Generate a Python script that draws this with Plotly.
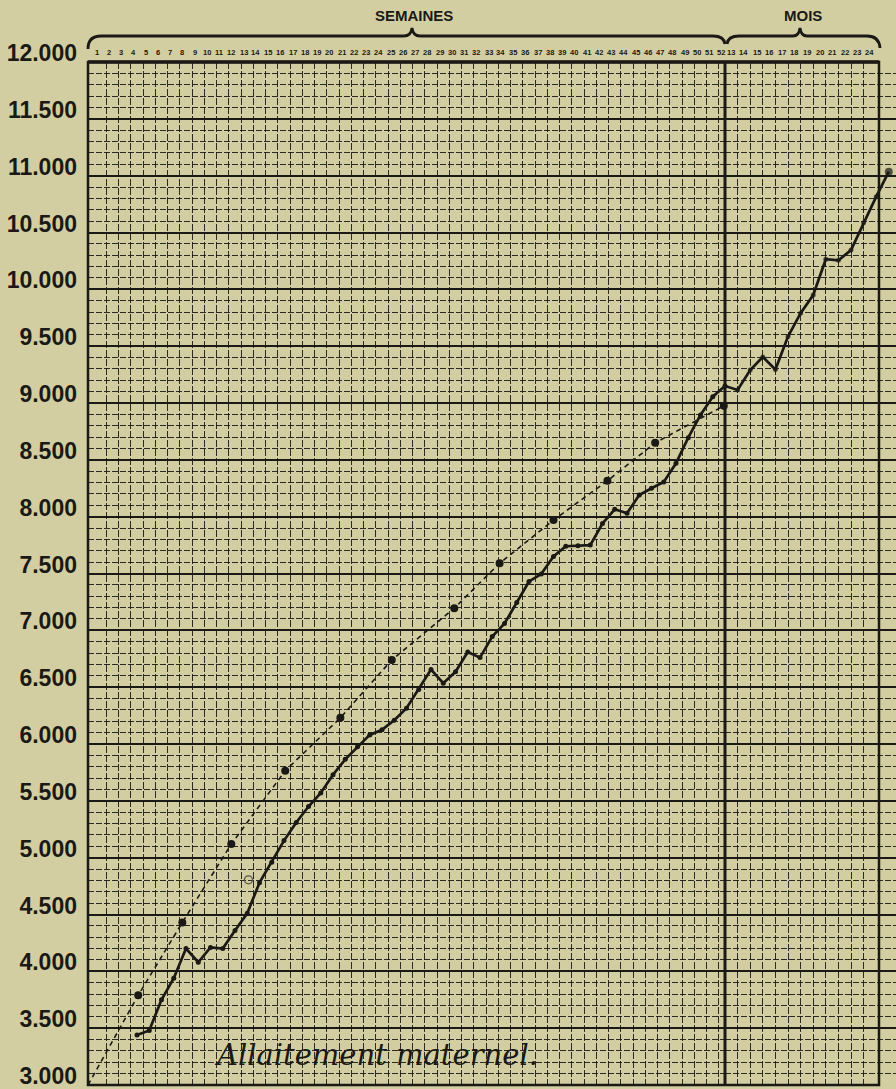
import plotly.graph_objects as go

# ---------------- data ----------------
# solid curve: weekly weighings (weeks 4..52), grams
weeks = list(range(4, 53))
weight_weeks = [3440, 3480, 3750, 3940, 4200, 4080, 4210, 4200, 4360, 4510,
                4780, 4960, 5150, 5310, 5450, 5570, 5730, 5865, 5975, 6080,
                6125, 6210, 6315, 6480, 6655, 6535, 6635, 6810, 6760, 6945,
                7060, 7245, 7430, 7495, 7650, 7740, 7745, 7750, 7940, 8065,
                8030, 8190, 8250, 8305, 8470, 8695, 8895, 9055, 9150]
# solid curve continued: monthly weighings (months 13..25), grams
months = list(range(13, 26))
weight_months = [9115, 9290, 9405, 9295, 9585, 9790, 9950, 10265, 10255,
                 10345, 10585, 10815, 11035]
# dashed reference curve (week position, grams)
ref_weeks = [0, 4.1, 7.7, 11.7, 16.1, 20.6, 24.8, 29.9, 33.6, 38.0, 42.4, 46.3, 51.9]
ref_weight = [3000, 3790, 4430, 5120, 5765, 6230, 6740, 7195, 7590, 7970, 8315, 8650, 8975]
# small open circle (crossed-out weighing)
open_week = [13.1]
open_weight = [4805]

# axis labels
y_ticks = list(range(3000, 12001, 500))
y_ticktext = [f"{v:,}".replace(",", ".") for v in y_ticks]
week_labels = list(range(1, 53))
month_labels = list(range(13, 25))

# ---------------- styling ----------------
BG = "#d3cea1"
INK = "#1a1915"
GRID = "rgba(26,25,21,0.9)"
W, H = 896, 1089
PL, PR, PT, PB = 88, 896, 62, 1085   # plot area in pixels
FRAME_R = 879                        # right edge of the printed grid
SEP = 725                            # weeks / months separator (pixels)
MONTH_PX = 12.6                      # pixels per month column


def pxp(x):
    return (x - PL) / (PR - PL)


def pyp(y):
    return (PB - y) / (PB - PT)


def path_from(points):
    out = []
    for cmd, pts in points:
        coords = " ".join(f"{pxp(x):.5f},{pyp(y):.5f}" for x, y in pts)
        out.append(f"{cmd} {coords}")
    return " ".join(out)


fig = go.Figure()

# dashed reference curve
fig.add_trace(go.Scatter(
    x=ref_weeks, y=ref_weight, mode="lines",
    line=dict(color=INK, width=1.6, dash="5px,4px"),
    cliponaxis=False, showlegend=False, hoverinfo="x+y"))
fig.add_trace(go.Scatter(
    x=ref_weeks[1:], y=ref_weight[1:], mode="markers",
    marker=dict(size=8, color=INK, line=dict(width=0)),
    cliponaxis=False, showlegend=False))

# solid curve, weeks part
fig.add_trace(go.Scatter(
    x=weeks, y=weight_weeks, mode="lines+markers",
    line=dict(color=INK, width=2.7),
    marker=dict(size=5, color=INK, line=dict(width=0)),
    cliponaxis=False, showlegend=False))

# solid curve, months part (starts from week 52 = month 12)
fig.add_trace(go.Scatter(
    x=[12] + months, y=[weight_weeks[-1]] + weight_months, mode="lines+markers",
    xaxis="x2", yaxis="y",
    line=dict(color=INK, width=2.7),
    marker=dict(size=[0] + [5] * (len(months) - 1) + [8], color=INK,
                line=dict(width=0)),
    cliponaxis=False, showlegend=False))

# open circle
fig.add_trace(go.Scatter(
    x=open_week, y=open_weight, mode="markers",
    marker=dict(size=8, color="rgba(0,0,0,0)", line=dict(color="#55554a", width=1.3)),
    showlegend=False))

week_grid = [k + 0.5 for k in range(1, 52)]
month_grid = list(range(13, 24))

axis_common = dict(showticklabels=False, ticks="", showgrid=True,
                   gridcolor=GRID, gridwidth=1, griddash="7px,2px",
                   zeroline=False, showline=False, fixedrange=True,
                   automargin=False)

fig.update_layout(
    width=W, height=H,
    margin=dict(l=PL, r=W - PR, t=PT, b=H - PB, pad=0, autoexpand=False),
    paper_bgcolor=BG, plot_bgcolor=BG,
    xaxis=dict(domain=[0, pxp(SEP)], range=[0, 52], tickvals=week_grid, **axis_common),
    xaxis2=dict(domain=[pxp(SEP), 1], range=[12, 12 + (PR - SEP) / MONTH_PX],
                tickvals=month_grid, anchor="y", **axis_common),
    yaxis=dict(range=[3000, 12000], tickvals=y_ticks, ticktext=y_ticktext,
               ticks="", showgrid=True, gridcolor=INK, gridwidth=2,
               zeroline=False, showline=False, fixedrange=True, automargin=False,
               ticklabelstandoff=10, ticklabelshift=-9, ticklabeloverflow="allow",
               tickfont=dict(family="Liberation Sans, Arial, sans-serif",
                             size=23, color=INK, weight="bold"),
               minor=dict(dtick=100, showgrid=True, gridcolor=GRID,
                          gridwidth=1, griddash="6px,2px", ticks="")),
    showlegend=False,
)

shapes = [
    # blank margin strip to the right of the printed grid (under the curve)
    dict(type="rect", xref="paper", yref="paper", x0=pxp(FRAME_R + 1), x1=1.01,
         y0=-0.01, y1=1.01, fillcolor=BG, line=dict(width=0), layer="between"),
    # frame
    dict(type="rect", xref="paper", yref="paper", x0=0, x1=pxp(FRAME_R), y0=0, y1=1,
         line=dict(color=INK, width=2.5), layer="between"),
    dict(type="line", xref="paper", yref="paper", x0=0, x1=pxp(FRAME_R), y0=1, y1=1,
         line=dict(color=INK, width=3.5), layer="between"),
    # weeks / months separator
    dict(type="line", xref="paper", yref="paper", x0=pxp(SEP), x1=pxp(SEP), y0=0, y1=1,
         line=dict(color=INK, width=3), layer="between"),
    # brace over weeks
    dict(type="path", xref="paper", yref="paper", layer="above",
         path=path_from([("M", [(88, 49)]), ("Q", [(88, 36), (101, 36)]),
                         ("L", [(404, 36)]), ("Q", [(411, 36), (412, 28)]),
                         ("Q", [(413, 36), (420, 36)]), ("L", [(713, 36)]),
                         ("Q", [(724, 36), (725, 44)])]),
         line=dict(color=INK, width=2.8)),
    # brace over months
    dict(type="path", xref="paper", yref="paper", layer="above",
         path=path_from([("M", [(727, 44)]), ("Q", [(728, 36), (739, 36)]),
                         ("L", [(793, 36)]), ("Q", [(799, 36), (800, 28)]),
                         ("Q", [(801, 36), (807, 36)]), ("L", [(867, 36)]),
                         ("Q", [(879, 36), (880, 48)])]),
         line=dict(color=INK, width=2.8)),
]
fig.update_layout(shapes=shapes)

small_font = dict(family="Liberation Sans, Arial, sans-serif",
                  size=7.5, color=INK, weight="bold")
ann = []
for k in week_labels:
    ann.append(dict(x=k - 0.3, y=pyp(52), xref="x", yref="paper", text=str(k),
                    showarrow=False, font=small_font, xanchor="center", yanchor="middle"))
for m in month_labels:
    ann.append(dict(x=m - 0.5, y=pyp(52), xref="x2", yref="paper", text=str(m),
                    showarrow=False, font=small_font, xanchor="center", yanchor="middle"))
ann.append(dict(x=pxp(414), y=pyp(15), xref="paper", yref="paper", text="SEMAINES",
                showarrow=False, xanchor="center", yanchor="middle",
                font=dict(family="Liberation Sans, Arial, sans-serif", size=15, color=INK, weight="bold")))
ann.append(dict(x=pxp(803), y=pyp(15), xref="paper", yref="paper", text="MOIS",
                showarrow=False, xanchor="center", yanchor="middle",
                font=dict(family="Liberation Sans, Arial, sans-serif", size=15, color=INK, weight="bold")))
ann.append(dict(x=pxp(376), y=pyp(1055), xref="paper", yref="paper",
                text="Allaitement maternel.", showarrow=False,
                xanchor="center", yanchor="middle",
                font=dict(family="DejaVu Serif, Liberation Serif, serif", size=29,
                          color=INK, style="italic")))
fig.update_layout(annotations=ann)

fig.write_html("out.html",
               config={"displayModeBar": False},
               post_script="document.body.style.margin='0';"
                           "document.body.style.background='" + BG + "';")
